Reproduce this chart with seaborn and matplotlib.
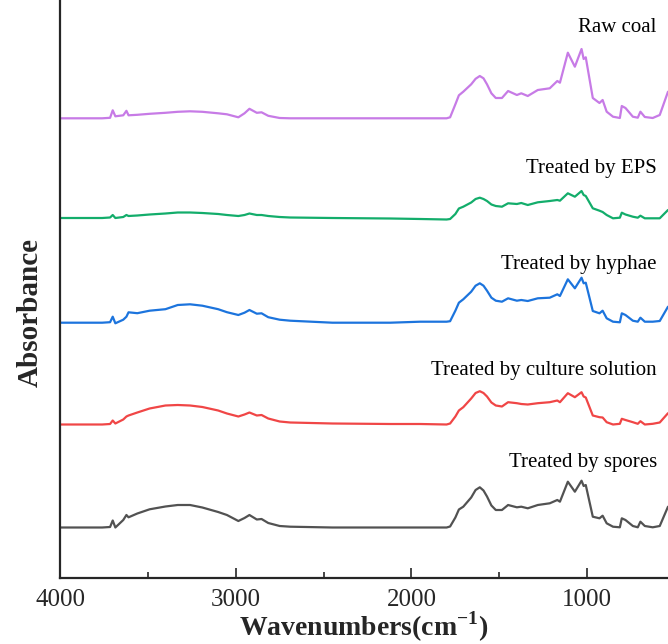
import pandas as pd
import seaborn as sns
import matplotlib.pyplot as plt
from matplotlib.ticker import MultipleLocator

# Numeros de onda (cm-1), de mayor a menor
wavenumber = [4000, 3760, 3715, 3700, 3685, 3640, 3622, 3610, 3560, 3490, 3400, 3330,
              3260, 3190, 3100, 3050, 2985, 2950, 2922, 2880, 2853, 2815, 2750, 2690,
              2450, 2120, 1950, 1800, 1780, 1750, 1730, 1705, 1660, 1635, 1611, 1590,
              1570, 1545, 1520, 1485,
              1450, 1400, 1375, 1338, 1281, 1213, 1170, 1155, 1110, 1070, 1032, 1020,
              1008, 968, 930, 912, 889, 853, 814, 803, 782, 740, 712, 697, 672, 627,
              587, 540]

# Absorbancia relativa (u.a.)
raw_coal = [0, 0, 0.5, 8, 2, 3, 7.5, 3, 3.5, 4.5, 5.5, 6.5,
            7, 6.5, 5, 4, 1, 5, 9.5, 5.5, 6, 2.5, 0.3, 0,
            0, 0, 0, 0, 1, 14, 23, 26.6, 34, 39.5, 42.3, 40,
            34, 25, 20.3, 20.3,
            27.3, 23.3, 25, 22.3, 28.3, 30, 37.3, 35.6, 65.6, 51.6, 69.3, 59.3,
            61, 20.3, 15.3, 18.3, 6.6, 1.6, 0.3, 12.3, 10.3, 1.6, 0.6, 6.6, 1.3, 0.3,
            3.3, 26.6]
eps = [2, 2, 2.5, 5, 2, 3, 5, 4, 4.5, 5.5, 6.5, 7.5,
       7.5, 7, 6, 5, 4, 5, 6.5, 5, 5, 4, 3, 2.5,
       2, 1.5, 1, 0.5, 1, 6, 11.5, 13.3, 17.5, 21, 22.3, 21,
       19, 15.5, 14, 13.3,
       16.7, 16, 17, 15, 17.7, 19, 20, 19.3, 26.7, 23.3, 29, 25,
       24, 11.7, 9.3, 8, 5, 1.7, 2.3, 7.3, 5.5, 3.3, 2.3, 4.3, 1.7, 1.7,
       1.7, 10]
hyphae = [0, 0, 0.5, 6, -0.6, 3, 6, 10.4, 9.5, 12, 13.5, 17.7,
          18.4, 17, 13.5, 10.5, 7.7, 10, 12.7, 9, 9.4, 5.5, 3, 2,
          0, 0, 1, 1, 1.5, 12, 20, 23.4, 31, 37, 39.4, 37,
          32, 25, 22, 21,
          24.4, 22, 22.7, 21.7, 24.4, 25, 28.4, 26.7, 43.4, 34.4, 45, 39.4,
          40, 11.7, 9.4, 12, 4.4, 1, 0.4, 9.4, 7.7, 2, 1, 5, 1, 1,
          1.7, 16]
culture = [0, 0, 0.5, 4, 1, 5, 8, 9, 12, 16, 19, 19.5,
           19, 17.5, 14, 11, 8, 10, 12, 9, 9.5, 6, 3, 2,
           1, 0.5, 0.5, 0, 1, 8, 14, 17.3, 26, 31.5, 33.3, 31.5,
           28, 22, 19, 18,
           22.3, 21.3, 20.5, 20, 21.3, 22.3, 24, 22.3, 31.3, 27.3, 32.3, 28,
           27, 9, 7.3, 7, 2.3, 0, 0.7, 5.7, 4.5, 2.3, 0.7, 3.3, 0, 0.7,
           2, 11.3]
spores = [0, 0, 0.5, 7, 0, 7.5, 12.5, 10.2, 14, 18.2, 21, 22.5,
          22.5, 20, 15.5, 12.5, 6.5, 9.5, 12.5, 8, 8.5, 4.5, 1.5, 0.8,
          0, 0, 0, 0, 1, 10, 18, 20.8, 30, 37.5, 40.2, 37,
          31, 22, 17.5, 17.5,
          22.5, 20.2, 20.8, 19.2, 22.5, 24.2, 27.5, 25.8, 45.8, 35.8, 46.8, 41.5,
          42.5, 10.8, 9.2, 11.8, 4.2, 0.8, 0.2, 9.2, 7.5, 1.5, 0.2, 5.8, 1.5, 0.2,
          1.5, 20.8]

samples = ["Raw coal", "Treated by EPS", "Treated by hyphae",
           "Treated by culture solution", "Treated by spores"]
series = [raw_coal, eps, hyphae, culture, spores]

# Desplazamiento vertical de cada espectro y posicion de su etiqueta
offsets = [459.7, 358, 255.3, 153.5, 50.5]
label_y = [551, 410, 313, 208, 116]
colors = ["#C77BE6", "#13AD6B", "#1C74DD", "#F04646", "#525252"]

frames = []
for name, vals, off in zip(samples, series, offsets):
    frames.append(pd.DataFrame({"Wavenumber": wavenumber,
                                "Absorbance": [v + off for v in vals],
                                "Muestra": name}))
df = pd.concat(frames, ignore_index=True)

sns.set_style("ticks")
plt.rcParams["font.family"] = ["Liberation Serif", "DejaVu Serif"]
plt.rcParams["mathtext.fontset"] = "custom"
plt.rcParams["mathtext.rm"] = "Liberation Serif"
plt.rcParams["mathtext.bf"] = "Liberation Serif:bold"

fig = plt.figure(figsize=(6.68, 6.44), dpi=100)
ax = fig.add_axes([60 / 668, 66 / 644, 608 / 668, 578 / 644])

sns.lineplot(data=df, x="Wavenumber", y="Absorbance", hue="Muestra",
             palette=colors, sort=False, estimator=None, legend=False,
             linewidth=1.6, ax=ax)

for name, yy in zip(samples, label_y):
    ax.text(604, yy, name, ha="right", va="center", fontsize=15, color="black")

ax.set_xlim(4000, 540)
ax.set_ylim(0, 578)
ax.set_yticks([])
ax.xaxis.set_major_locator(MultipleLocator(1000))
ax.xaxis.set_minor_locator(MultipleLocator(500))
ax.tick_params(axis="x", which="major", direction="in", length=7, width=1.2,
               labelsize=18, pad=8)
ax.tick_params(axis="x", which="minor", direction="in", length=4, width=1.2)

for s in ["top", "right"]:
    ax.spines[s].set_visible(False)
for s in ["left", "bottom"]:
    ax.spines[s].set_linewidth(1.6)

ax.set_xlabel(r"Wavenumbers(cm$^{\mathbf{-1}}$)", fontsize=20, fontweight="bold",
              labelpad=-1)
ax.set_ylabel("Absorbance", fontsize=21, fontweight="bold")
ax.yaxis.set_label_coords(-0.027, 0.46)

plt.savefig("out.png", dpi=100)
